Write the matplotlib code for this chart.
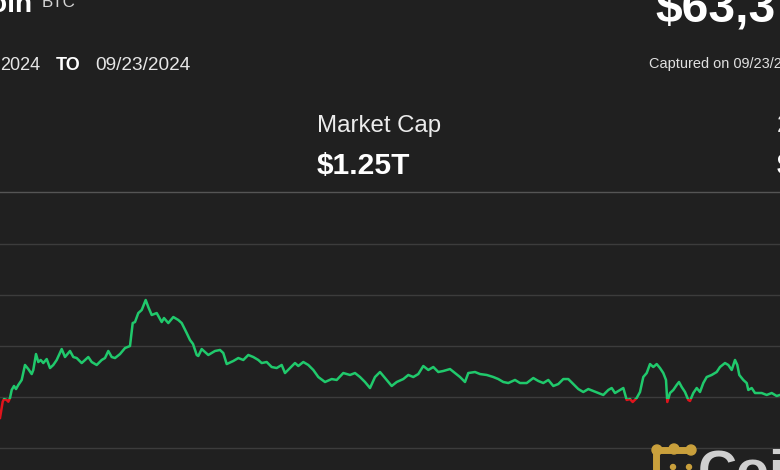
import matplotlib.pyplot as plt
from matplotlib.patches import Rectangle, Circle

# price trace (t = time step across the visible window, USD price)
t = [0, 2.7, 4, 6.7, 8.3, 10, 11.7, 14, 16, 18.3, 21.7, 25, 28.3, 31.7, 33.3, 36, 38.3, 40.7,
     43.3, 46.7, 50, 53.3, 56.7, 61.7, 65, 70, 73.3, 76.7, 81.7, 88.3, 91.7, 96.7, 101.7, 105,
     108.3, 111.7, 115, 120, 125, 130, 132.7, 135, 138.3, 141.7, 145.7, 148.3, 151.7, 156.7,
     161.7, 164, 168.3, 173.3, 178.3, 181.7, 186.7, 190, 193, 196.7, 198.3, 201.7, 208.3, 215,
     220, 223.3, 226.7, 233.3, 238.3, 243.3, 248.3, 253.3, 258.3, 261.7, 266.7, 271.7, 276.7,
     281.7, 285, 290, 295, 298.3, 303.3, 308.3, 313.3, 318.3, 325, 331.7, 336.7, 343.3, 350,
     355, 360, 365, 370, 375, 380, 385, 391.7, 396.7, 403.3, 408.3, 413.3, 418.3, 423.3, 428.3,
     433.3, 438.3, 443.3, 450, 455, 460, 465, 468.3, 475, 480, 486.7, 493.3, 498.3, 503.3,
     508.3, 515, 520, 526.7, 533.3, 538.3, 543.3, 548.3, 553.3, 558.3, 563.3, 568.3, 573.3,
     578.3, 583.3, 588.3, 593.3, 598.3, 603.3, 608.3, 611.7, 615, 620, 623.3, 626.7, 630,
     632.7, 636.7, 640, 643.3, 646.7, 650, 653.3, 656.7, 660, 663.3, 666, 667.3, 670, 673.3,
     676.7, 679, 681.7, 685, 688.3, 690, 693.3, 696.7, 700, 703.3, 706.7, 711.7, 716.7, 720,
     725, 728.3, 731.7, 735, 737.3, 739.3, 743.3, 746.7, 748.3, 751.7, 755, 761.7, 766.7,
     771.7, 776.7, 780]
price = [62795, 62954, 62980, 62971, 62954, 62990, 63069, 63108, 63078, 63118, 63167, 63314,
         63274, 63225, 63265, 63421, 63343, 63363, 63333, 63372, 63284, 63314, 63363, 63470,
         63392, 63451, 63392, 63382, 63333, 63392, 63343, 63314, 63363, 63382, 63451, 63392,
         63382, 63421, 63480, 63500, 63725, 63735, 63823, 63853, 63951, 63882, 63804, 63823,
         63735, 63774, 63725, 63784, 63755, 63725, 63627, 63559, 63520, 63412, 63402, 63470,
         63412, 63451, 63461, 63431, 63323, 63353, 63382, 63363, 63412, 63392, 63363, 63333,
         63343, 63294, 63284, 63314, 63235, 63284, 63333, 63304, 63343, 63314, 63265, 63196,
         63147, 63176, 63167, 63235, 63216, 63235, 63196, 63147, 63088, 63196, 63245, 63186,
         63108, 63147, 63176, 63216, 63196, 63225, 63304, 63265, 63294, 63245, 63255, 63274,
         63235, 63196, 63147, 63235, 63245, 63225, 63216, 63196, 63176, 63147, 63137, 63167,
         63137, 63137, 63186, 63157, 63137, 63167, 63108, 63127, 63176, 63176, 63127, 63078,
         63049, 63078, 63059, 63039, 63020, 63069, 63088, 63039, 63069, 63088, 62971, 62980,
         62951, 62990, 63049, 63196, 63235, 63323, 63294, 63323, 63284, 63235, 63167, 62951,
         63039, 63069, 63118, 63147, 63098, 63049, 62971, 62961, 63039, 63088, 63049, 63137,
         63196, 63216, 63245, 63294, 63333, 63314, 63265, 63363, 63314, 63216, 63167, 63137,
         63069, 63088, 63039, 63039, 63020, 63039, 63010, 63020]
open_price = 62985
grid_prices = [62500, 63000, 63500, 64000, 64500]

BG = '#202020'
GREEN = '#20c96c'
RED = '#e0141c'
W, H = 780, 470

plt.rcParams['font.family'] = ['Liberation Sans', 'DejaVu Sans']

fig = plt.figure(figsize=(7.8, 4.7), dpi=100, facecolor=BG)


def pos(x, y):
    return x / W, 1 - y / H


def pt(px):
    return px * 0.72


# header texts
fig.text(*pos(32, 11.5), 'Bitcoin', ha='right', va='baseline', color='white',
         fontsize=pt(28), fontweight='bold')
fig.text(*pos(42, 7.3), 'BTC', ha='left', va='baseline', color='#d4d4d4', fontsize=pt(17))
fig.text(*pos(655, 21.7), '$63,3', ha='left', va='baseline', color='white',
         fontsize=pt(48), fontweight='bold')
fig.text(*pos(0, 70.5), '2024', ha='left', va='baseline', color='#e6e6e6', fontsize=pt(18))
fig.text(*pos(56, 70.5), 'TO', ha='left', va='baseline', color='white', fontsize=pt(18),
         fontweight='bold')
fig.text(*pos(95, 70.5), '09/23/2024', ha='left', va='baseline', color='#e6e6e6',
         fontsize=pt(19))
fig.text(*pos(649, 68.3), 'Captured on 09/23/2024', ha='left', va='baseline',
         color='#e0e0e0', fontsize=pt(14.5))
fig.text(*pos(317, 131.7), 'Market Cap', ha='left', va='baseline', color='#ececec',
         fontsize=pt(24))
fig.text(*pos(317, 174), '$1.25T', ha='left', va='baseline', color='white',
         fontsize=pt(30), fontweight='bold')
fig.text(*pos(777, 132), '2', ha='left', va='baseline', color='#ececec', fontsize=pt(24))
fig.text(*pos(777, 174), '$', ha='left', va='baseline', color='white', fontsize=pt(30),
         fontweight='bold')

# chart
ax = fig.add_axes([0, 0, 1, 270 / H])
ax.set_facecolor('none')
ax.set_xlim(0, 780)
ax.set_ylim(62284.3, 64931.4)
for s in ax.spines.values():
    s.set_visible(False)
ax.set_xticks([])
ax.set_yticks(grid_prices)
ax.tick_params(left=False, labelleft=False)
ax.grid(axis='y', color='#3c3c3c', lw=1.0)

up, = ax.plot(t, price, color=GREEN, lw=1.8, solid_joinstyle='round', zorder=3)
down, = ax.plot(t, price, color=RED, lw=1.8, solid_joinstyle='round', zorder=3)
above = Rectangle((-10, open_price), 800, 5000, transform=ax.transData)
below = Rectangle((-10, open_price - 5000), 800, 5000, transform=ax.transData)
up.set_clip_path(above)
down.set_clip_path(below)

# overlay for divider and watermark
ov = fig.add_axes([0, 0, 1, 1])
ov.set_xlim(0, W)
ov.set_ylim(H, 0)
ov.axis('off')
ov.set_facecolor('none')
ov.plot([0, W], [191.5, 191.5], color='#555555', lw=1.0)

GOLD = '#c9a03c'
ov.plot([656, 656, 691], [472, 450, 450], color=GOLD, lw=5, solid_capstyle='round', zorder=5)
for cx, cy, r in [(657, 450, 5), (674, 449, 5), (691, 450, 5), (673, 467, 2.5), (689, 467, 2.5)]:
    ov.add_patch(Circle((cx, cy), r, color=GOLD, zorder=5))
ov.text(698, 487, 'CoinDesk', ha='left', va='baseline', color='#cfcfcf',
        fontsize=pt(54), fontweight='bold', zorder=5)

fig.savefig('out.png', dpi=100, facecolor=BG)
